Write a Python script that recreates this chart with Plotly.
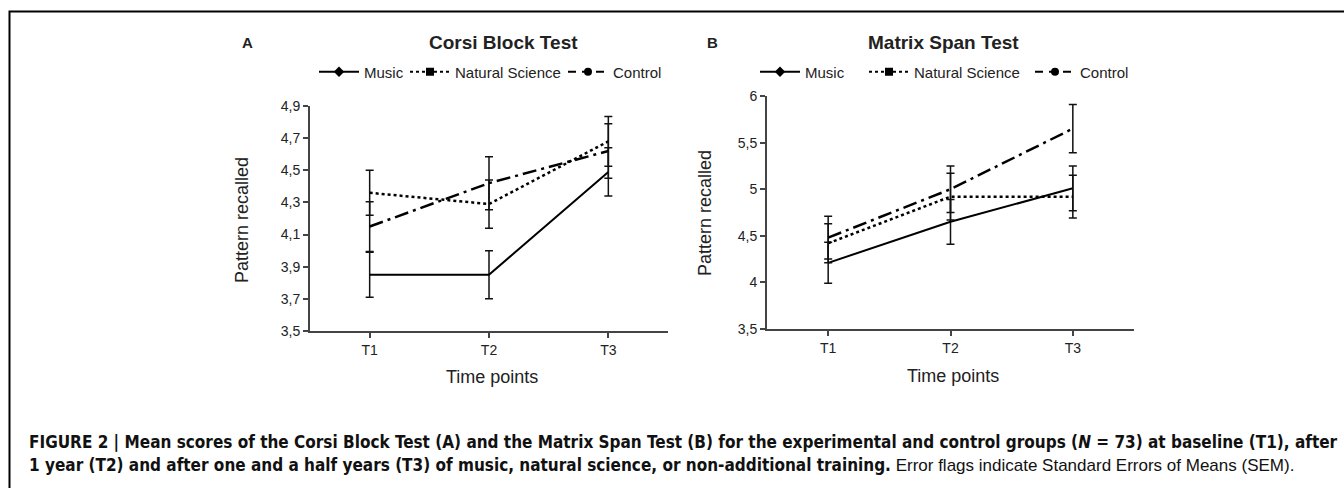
import plotly.graph_objects as go

W, H = 1344, 488

time_points = ["T1", "T2", "T3"]
groups = ["Music", "Natural Science", "Control"]

# Corsi Block Test (A)
corsi_music = [3.85, 3.85, 4.49]
corsi_music_sem = [0.14, 0.15, 0.15]
corsi_science = [4.36, 4.29, 4.68]
corsi_science_sem = [0.14, 0.15, 0.155]
corsi_control = [4.15, 4.42, 4.62]
corsi_control_sem = [0.155, 0.165, 0.17]

# Matrix Span Test (B)
matrix_music = [4.21, 4.65, 5.01]
matrix_music_sem = [0.22, 0.24, 0.24]
matrix_science = [4.42, 4.92, 4.92]
matrix_science_sem = [0.21, 0.25, 0.23]
matrix_control = [4.48, 5.00, 5.65]
matrix_control_sem = [0.23, 0.25, 0.26]

styles = {
    "Music": dict(dash="solid", width=2, symbol="diamond"),
    "Natural Science": dict(dash="dot", width=2.5, symbol="square"),
    "Control": dict(dash="14px,5px,3px,5px", width=2.5, symbol="circle"),
}

TXT = "#222222"
AX = "#444444"
FONT = "Liberation Sans, Arial, sans-serif"

def px_x(p):
    return p / W

def px_y(p):
    return 1 - p / H

fig = go.Figure()

# legend symbol start positions (px) for each panel's items
legend_x = {
    "A": [314, 405, 563],
    "B": [755, 864, 1030],
}

panels = [
    ("A", "x", "y", [(corsi_music, corsi_music_sem), (corsi_science, corsi_science_sem), (corsi_control, corsi_control_sem)]),
    ("B", "x2", "y2", [(matrix_music, matrix_music_sem), (matrix_science, matrix_science_sem), (matrix_control, matrix_control_sem)]),
]

legends = {}
k = 0
for pid, xa, ya, series in panels:
    for g, (vals, sem) in zip(groups, series):
        st = styles[g]
        fig.add_trace(go.Scatter(
            x=time_points, y=vals, mode="lines", xaxis=xa, yaxis=ya,
            line=dict(color="black", width=st["width"], dash=st["dash"]),
            error_y=dict(type="data", array=sem, symmetric=True, color="#111111", thickness=1.5, width=4),
            showlegend=False, hoverinfo="skip",
        ))
    for i, g in enumerate(groups):
        st = styles[g]
        k += 1
        lname = "legend" if k == 1 else "legend%d" % k
        fig.add_trace(go.Scatter(
            x=[None], y=[None], mode="lines+markers", name=g, xaxis=xa, yaxis=ya,
            line=dict(color="black", width=2, dash=st["dash"] if g != "Control" else "8px,6px"),
            marker=dict(color="black", size=8, symbol=st["symbol"]),
            legend=lname, showlegend=True,
        ))
        legends[lname] = dict(orientation="h", x=px_x(legend_x[pid][i]), xanchor="left", y=px_y(72), yanchor="middle",
                              font=dict(size=15, color=TXT, family=FONT), bgcolor="rgba(0,0,0,0)",
                              borderwidth=0, itemwidth=40)

axis_common = dict(showgrid=False, zeroline=False, showline=True, linecolor=AX, linewidth=2,
                   ticks="outside", ticklen=5, tickcolor=AX, tickwidth=1.5, automargin=False,
                   tickfont=dict(size=14, color=TXT, family=FONT))

fig.update_layout(
    width=W, height=H, margin=dict(l=0, r=0, t=0, b=0, autoexpand=False), autosize=False,
    paper_bgcolor="white", plot_bgcolor="white",
    separators=",.",
    font=dict(family=FONT, color=TXT),
    xaxis=dict(domain=[px_x(310), px_x(668)], range=[-0.5, 2.5], type="category", anchor="y", **axis_common),
    yaxis=dict(domain=[px_y(331), px_y(106)], range=[3.5, 4.9], tick0=3.5, dtick=0.2, anchor="x", **axis_common),
    xaxis2=dict(domain=[px_x(767), px_x(1134)], range=[-0.5, 2.5], type="category", anchor="y2", **axis_common),
    yaxis2=dict(domain=[px_y(329), px_y(96)], range=[3.5, 6.0], tick0=3.5, dtick=0.5, anchor="x2", **axis_common),
    **legends,
)

ann = []
def add_text(text, x, y, size, bold=False, xanchor="center", angle=0, family=FONT):
    ann.append(dict(text=("<b>%s</b>" % text) if bold else text, x=px_x(x), y=px_y(y), xref="paper", yref="paper",
                    showarrow=False, xanchor=xanchor, yanchor="middle", textangle=angle,
                    font=dict(size=size, color=TXT, family=family)))

add_text("A", 247, 42, 15, bold=True)
add_text("Corsi Block Test", 503, 42, 19, bold=True)
add_text("B", 712, 42, 15, bold=True)
add_text("Matrix Span Test", 943, 42, 19, bold=True)
add_text("Pattern recalled", 242, 220, 18, angle=-90)
add_text("Pattern recalled", 705, 213, 18, angle=-90)
add_text("Time points", 492, 377, 18)
add_text("Time points", 953, 376, 18)

CAP = "DejaVu Sans Condensed, Liberation Sans Narrow, sans-serif"
line1 = ("FIGURE 2 | Mean scores of the Corsi Block Test (A) and the Matrix Span Test (B) for the experimental "
         "and control groups (<i>N</i> = 73) at baseline (T1), after")
line2 = ("<b>1 year (T2) and after one and a half years (T3) of music, natural science, or non-additional training.</b>"
         "<span style=\"font-family:Liberation Sans, Arial, sans-serif\"> Error flags indicate Standard Errors of Means (SEM).</span>")
ann.append(dict(text="<b>%s</b>" % line1, x=px_x(27), y=px_y(442), xref="paper", yref="paper", showarrow=False,
                xanchor="left", yanchor="middle", font=dict(size=17, color="#111111", family=CAP)))
ann.append(dict(text=line2, x=px_x(27), y=px_y(465), xref="paper", yref="paper", showarrow=False,
                xanchor="left", yanchor="middle", font=dict(size=17, color="#111111", family=CAP)))

fig.update_layout(annotations=ann)

fig.add_shape(type="path", xref="paper", yref="paper",
              path="M %f,%f L %f,%f L %f,%f" % (px_x(9.5), 0, px_x(9.5), px_y(11.5), 1.0, px_y(11.5)),
              line=dict(color="black", width=2))

post = (
    "document.documentElement.style.margin='0';document.documentElement.style.padding='0';"
    "document.body.style.margin='0';document.body.style.padding='0';document.body.style.overflow='hidden';"
)

fig.write_html("out.html", config={"displayModeBar": False}, post_script=post)
